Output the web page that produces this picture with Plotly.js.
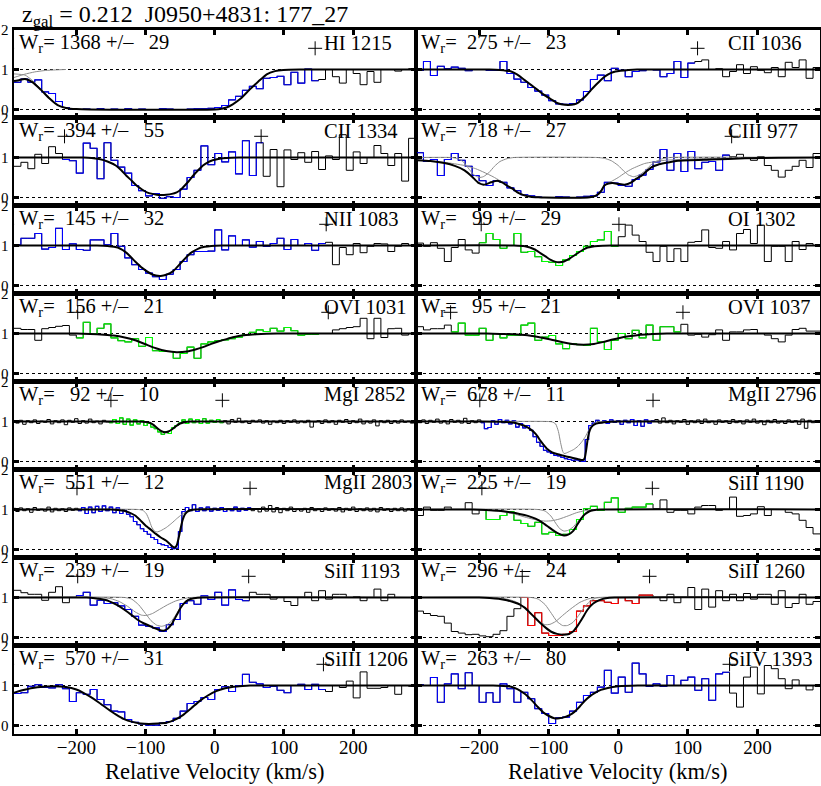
<!DOCTYPE html>
<html><head><meta charset="utf-8">
<script src="https://cdn.plot.ly/plotly-3.0.1.min.js"></script>
<style>html,body{margin:0;padding:0;background:#fff}</style>
</head><body><div id="chart" style="width:821px;height:786px"></div>
<script>
// ---------------- DATA ----------------
const figTitle = "z<sub>gal</sub> = 0.212\u00a0\u00a0J0950+4831: 177_27";
const xTickVals = [-200, -100, 0, 100, 200];
const yTickVals = [0, 1, 2];

// velocity bin centres (km/s)
const velCOS = [-285,-275,-265,-255,-245,-235,-225,-215,-205,-195,-185,-175,-165,-155,-145,-135,-125,-115,-105,-95,-85,-75,-65,-55,-45,-35,-25,-15,-5,5,15,25,35,45,55,65,75,85,95,105,115,125,135,145,155,165,175,185,195,205,215,225,235,245,255,265,275,285];
const velHIRES = [-290,-285,-280,-275,-270,-265,-260,-255,-250,-245,-240,-235,-230,-225,-220,-215,-210,-205,-200,-195,-190,-185,-180,-175,-170,-165,-160,-155,-150,-145,-140,-135,-130,-125,-120,-115,-110,-105,-100,-95,-90,-85,-80,-75,-70,-65,-60,-55,-50,-45,-40,-35,-30,-25,-20,-15,-10,-5,0,5,10,15,20,25,30,35,40,45,50,55,60,65,70,75,80,85,90,95,100,105,110,115,120,125,130,135,140,145,150,155,160,165,170,175,180,185,190,195,200,205,210,215,220,225,230,235,240,245,250,255,260,265,270,275,280,285,290];

const panelIon = ['HI 1215','CII 1036','CII 1334','CIII 977','NII 1083','OI 1302','OVI 1031','OVI 1037','MgI 2852','MgII 2796','MgII 2803','SiII 1190','SiII 1193','SiII 1260','SiIII 1206','SiIV 1393'];
const panelWr = [1368,275,394,718,145,99,156,95,92,678,551,225,239,296,570,263];
const panelWrErr = [29,23,55,27,32,29,21,21,10,11,12,19,19,24,31,80];
const panelVmin = [-300,-300,-217,-300,-300,-197,-198,-241,-150,-199,-199,-196,-198,-138,-300,-300];
const panelVmax = [145,114,67,163,161,1,164,93,11,50,51,49,49,45,157,160];
const panelGrid = ['COS','COS','COS','COS','COS','COS','COS','COS','HIRES','HIRES','HIRES','COS','COS','COS','COS','COS'];

// normalised flux
const fluxHI1215 = [0.68,0.76,0.68,0.74,0.44,0.40,0.20,0.05,0.01,0.00,0.01,0.00,0.02,0.00,0.01,0.00,0.02,0.00,0.01,0.00,0.00,0.02,0.01,0.00,0.00,0.01,0.02,0.02,0.03,0.05,0.10,0.24,0.33,0.48,0.58,0.52,0.78,0.80,0.83,0.62,0.93,0.66,1.01,0.72,0.75,1.00,0.82,0.66,1.00,0.90,0.62,0.95,0.68,1.00,1.00,0.96,1.00,1.02];
const fluxCII1036 = [0.98,1.20,0.85,1.08,1.02,1.06,1.03,0.97,1.00,1.00,0.98,0.98,1.20,0.90,0.76,0.68,0.55,0.46,0.36,0.22,0.14,0.13,0.15,0.24,0.45,0.75,0.86,0.72,1.03,0.98,0.82,0.95,0.97,1.00,0.99,0.82,0.90,1.20,0.80,1.16,1.20,1.24,1.00,1.02,0.82,0.95,1.12,0.90,1.07,0.98,0.92,1.05,0.82,1.18,1.05,1.24,0.78,1.05];
const fluxCII1334 = [0.78,0.88,0.72,1.08,0.85,1.27,1.10,0.95,0.92,0.61,1.36,1.23,0.47,1.37,0.93,0.76,0.61,0.30,0.17,0.04,0.10,-0.02,0.02,0.00,0.21,0.50,0.68,1.29,0.82,1.10,0.89,1.14,0.59,1.42,0.55,1.37,0.53,1.20,0.27,1.19,0.95,1.12,0.88,1.15,0.70,1.04,0.95,1.57,0.68,1.14,0.85,1.00,1.30,1.10,0.80,1.10,0.41,1.48];
const fluxCIII977 = [1.12,0.90,0.95,0.55,0.95,1.10,0.93,0.78,0.55,0.42,0.30,0.42,0.38,0.24,0.17,0.07,0.04,0.01,0.00,0.00,0.02,0.01,0.00,0.01,0.03,0.04,0.13,0.38,0.36,0.30,0.28,0.45,0.56,0.70,0.89,1.20,0.68,1.10,0.65,1.15,0.72,0.88,0.90,0.68,1.06,1.02,1.08,1.00,0.93,1.02,0.80,0.68,0.51,0.68,0.78,0.93,0.75,1.10];
const fluxNII1083 = [1.02,1.18,1.18,1.30,0.91,0.95,1.43,0.90,1.04,0.90,0.88,1.14,1.14,1.02,1.30,0.98,0.69,0.52,0.40,0.31,0.22,0.15,0.28,0.40,0.60,0.77,0.85,0.85,0.86,1.39,0.89,1.24,1.00,1.14,0.96,1.10,0.98,1.05,1.18,0.90,1.15,1.00,1.05,0.88,1.05,1.08,0.52,0.95,0.77,1.05,0.82,0.98,1.05,1.04,0.85,0.98,1.05,1.00];
const fluxOI1302 = [1.06,0.98,1.07,0.93,0.60,0.95,1.15,0.89,0.81,1.07,1.30,1.15,0.93,1.00,1.30,0.83,0.85,0.72,0.60,0.58,0.50,0.64,0.75,0.85,0.98,1.10,1.14,1.35,0.98,1.22,1.51,1.26,1.10,0.83,0.60,0.98,0.60,0.92,0.60,1.08,1.10,1.39,0.95,0.93,1.10,0.89,1.30,1.40,1.05,1.51,0.60,0.98,0.98,0.60,1.10,0.90,1.05,1.00];
const fluxOVI1031 = [1.13,1.10,1.10,0.83,1.12,1.15,1.18,1.20,0.96,0.89,1.28,1.00,1.13,1.24,0.89,0.82,0.79,0.87,0.68,0.90,0.57,0.55,0.55,0.38,0.50,0.66,0.38,0.74,0.79,0.82,0.84,0.87,0.91,0.97,1.03,1.09,1.05,1.13,1.06,1.15,1.07,0.96,0.98,0.98,1.00,1.00,1.09,1.12,1.15,1.17,1.38,0.87,1.38,0.90,1.12,1.13,0.96,1.00];
const fluxOVI1037 = [1.17,1.09,1.12,1.12,1.21,1.04,1.26,0.96,0.96,1.13,0.83,1.00,0.89,0.96,0.96,1.21,1.26,0.83,0.91,0.95,0.74,0.62,0.74,0.72,0.70,1.13,0.79,0.60,0.83,1.00,0.87,1.08,0.89,1.21,0.83,1.17,1.17,1.04,1.23,0.96,0.98,0.91,0.97,1.09,0.83,1.04,1.04,1.09,1.10,1.00,0.96,0.87,0.79,0.96,1.10,1.13,1.06,1.06];
const fluxMgI2852 = [1.00,0.96,1.03,0.93,1.02,0.97,1.04,0.95,1.01,0.98, 1.05,0.94,1.02,0.97,1.04,0.92,1.03,0.98,1.07,0.95, 1.02,0.96,1.06,0.97,1.01,0.94,1.03,0.99,0.97,1.05, 0.95,1.09,0.93,1.06,0.91,1.04,0.94,1.02,0.90,0.96, 0.86,0.82,0.74,0.68,0.75,0.70,0.84,0.90,0.96,1.04, 0.95,1.06,0.97,1.05,0.95,1.07,0.96,1.03,0.98,1.05, 0.97,1.02,0.94,1.05,0.98,1.08,0.97,1.01,0.95,1.03, 0.99,1.04,0.96,1.02,0.93,1.01,0.97,1.03,0.95,1.02, 0.98,1.04,0.96,1.01,0.97,1.03,0.86,0.99,1.02,0.95, 1.04,0.97,1.02,0.93,1.03,0.98,1.05,0.95,1.02,0.97, 1.06,0.94,1.01,0.96,1.04,0.89,1.02,0.97,1.03,0.95, 1.02,0.96,1.04,0.98,1.01,0.96,1.02];
const fluxMgII2796 = [1.00,0.97,1.04,0.95,1.03,0.98,1.06,0.96,1.02,0.94, 1.05,0.98,1.03,0.96,1.08,0.95,1.02,0.97,1.04,0.97, 0.82,0.85,1.02,0.93,1.05,0.97,1.03,0.94,1.02,0.86, 0.95,0.84,0.90,0.78,0.62,0.48,0.38,0.28,0.24,0.20, 0.15,0.14,0.10,0.07,0.05,0.03,0.04,0.02,0.00,0.55, 0.90,0.96,1.03,0.97,1.02,0.95,1.04,0.98,1.02,0.93, 1.03,0.97,1.05,0.90,1.02,0.88,1.04,0.96,1.02,1.05, 0.96,1.09,0.97,1.03,0.94,1.02,0.98,1.05,0.93,1.02, 0.97,1.04,0.95,1.06,0.97,1.01,0.93,1.04,0.98,1.02, 0.95,1.05,0.97,1.02,0.94,1.04,0.98,1.06,0.96,1.02, 0.92,1.03,0.97,1.05,0.96,1.01,0.95,1.04,0.98,1.02, 0.93,1.06,0.83,1.03,0.97,1.02,0.98];
const fluxMgII2803 = [1.03,0.95,1.04,0.97,1.02,0.93,1.05,0.98,1.01,0.96, 1.06,0.94,1.03,0.97,1.02,0.95,1.04,0.98,1.03,0.97, 1.05,0.90,1.06,0.92,1.08,0.95,1.09,0.97,1.06,0.92, 1.04,0.90,0.98,0.88,0.82,0.70,0.62,0.52,0.45,0.38, 0.30,0.25,0.15,0.12,0.10,0.05,0.02,0.03,0.45,0.95, 1.05,0.97,1.12,0.95,1.04,0.97,1.06,0.96,1.03,0.98, 1.05,0.95,1.02,0.97,1.06,0.96,1.03,0.98,1.04,0.97, 1.02,0.94,1.06,0.96,1.10,0.94,1.05,0.92,1.03,0.97, 1.06,0.95,1.01,0.96,1.03,0.93,1.05,0.97,1.02,0.95, 1.04,0.98,1.02,0.96,1.05,0.94,1.03,0.98,1.06,0.95, 1.02,0.97,1.04,0.96,1.03,0.94,1.05,0.98,1.02,0.95, 1.03,0.97,1.04,0.96,1.02,0.98,1.01];
const fluxSiII1190 = [0.85,1.06,0.98,0.98,1.06,1.00,1.00,1.17,0.89,1.00,0.75,0.75,0.85,0.95,0.73,0.65,0.58,0.68,0.39,0.43,0.35,0.38,0.50,0.75,1.02,1.08,0.98,1.18,1.29,0.93,1.03,1.06,1.06,1.14,1.02,1.24,0.93,0.98,0.98,0.89,1.06,1.10,1.10,0.98,1.00,1.31,0.83,0.85,0.89,1.07,0.85,1.00,1.00,0.93,0.89,0.73,0.55,0.39];
const fluxSiII1193 = [1.18,1.12,1.08,1.08,0.93,1.13,1.27,0.87,1.00,1.05,1.13,0.81,0.93,0.85,0.87,0.79,0.70,0.53,0.31,0.28,0.24,0.15,0.32,0.45,0.85,0.92,0.83,1.04,0.95,1.13,0.81,1.19,0.95,0.92,1.13,1.08,1.08,0.96,1.00,0.90,0.80,1.00,1.13,0.92,1.17,0.96,1.08,1.08,1.00,1.02,0.92,1.00,1.21,0.92,1.08,1.00,1.00,1.00];
const fluxSiII1260 = [0.66,0.60,0.55,0.53,0.36,0.15,0.11,0.07,0.08,0.04,0.02,0.08,0.17,0.53,0.72,1.00,0.30,0.62,0.11,0.05,0.05,0.08,0.15,0.66,0.79,0.92,0.92,0.88,0.85,1.00,0.92,0.85,1.06,1.06,1.00,0.92,1.08,0.87,1.00,1.25,0.70,1.21,0.76,1.17,0.92,1.08,0.92,1.10,0.96,1.08,1.08,0.83,1.17,0.75,0.85,1.08,0.83,0.90];
const fluxSiIII1206 = [0.80,0.82,0.98,1.02,0.95,0.94,1.02,0.92,0.60,0.82,0.78,0.90,0.65,0.52,0.36,0.34,0.15,0.08,0.04,0.01,0.01,0.06,0.10,0.18,0.36,0.55,0.60,0.70,0.65,0.90,0.97,0.85,1.00,1.28,1.08,1.04,0.95,0.98,0.88,0.82,1.00,1.03,0.90,1.03,0.90,0.85,1.00,0.95,1.11,0.69,1.34,0.93,0.93,0.95,1.00,0.78,1.00,0.98];
const fluxSiIV1393 = [1.02,1.00,1.20,0.58,1.04,1.29,0.92,1.32,1.00,0.58,0.82,0.58,1.04,0.92,0.58,0.83,0.67,0.42,0.30,0.05,0.19,0.21,0.36,0.58,0.75,0.83,0.96,1.38,0.81,1.21,0.83,1.56,1.29,0.98,1.04,0.98,1.25,1.00,1.13,1.21,0.88,1.17,0.63,1.29,1.33,0.81,0.46,1.21,1.46,0.79,1.50,1.42,1.17,0.92,1.14,1.00,0.89,1.00];

// model fits [velocity, flux]
const fitHI1215 = [[-290,0.71],[-282,0.74],[-274,0.76],[-263,0.68],[-251,0.49],[-239,0.28],[-227,0.11],[-215,0.04],[-200,0.01],[-180,0],[0,0],[10,0.02],[17,0.05],[26,0.13],[38,0.28],[50,0.49],[63,0.70],[75,0.88],[87,0.96],[99,0.99],[123,1.0],[290,1.0]];
const fitCII1036 = [[-290,1],[-185,1],[-170,0.99],[-154,0.95],[-145,0.87],[-135,0.74],[-125,0.61],[-116,0.49],[-106,0.36],[-96,0.25],[-89,0.17],[-82,0.13],[-72,0.11],[-63,0.13],[-57,0.18],[-53,0.24],[-46,0.35],[-39,0.49],[-32,0.62],[-25,0.74],[-18,0.84],[-11,0.91],[-4,0.95],[3,0.97],[15,0.99],[27,1],[290,1]];
const fitCII1334 = [[-290,1],[-190,1],[-178,0.99],[-167,0.96],[-155,0.9],[-143,0.8],[-135,0.68],[-128,0.55],[-120,0.42],[-113,0.3],[-105,0.2],[-98,0.13],[-90,0.09],[-84,0.07],[-77,0.065],[-70,0.07],[-62,0.09],[-55,0.13],[-50,0.18],[-46,0.25],[-38,0.4],[-31,0.55],[-24,0.68],[-17,0.8],[-10,0.88],[-3,0.93],[7,0.97],[17,0.99],[35,1],[290,1]];
const fitCIII977 = [[-290,0.93],[-270,0.91],[-250,0.86],[-235,0.79],[-221,0.68],[-210,0.52],[-202,0.38],[-193,0.32],[-183,0.38],[-174,0.42],[-167,0.38],[-160,0.3],[-152,0.22],[-145,0.13],[-136,0.06],[-126,0.02],[-115,0.005],[-106,0],[-45,0],[-39,0.01],[-33,0.04],[-29,0.08],[-24,0.18],[-20,0.3],[-14,0.35],[-8,0.36],[0,0.34],[9,0.32],[19,0.38],[26,0.47],[34,0.55],[41,0.66],[48,0.76],[57,0.82],[67,0.86],[86,0.92],[134,0.95],[182,0.98],[230,0.995],[290,1]];
const fitNII1083 = [[-290,1],[-170,1],[-155,0.99],[-140,0.95],[-127,0.81],[-115,0.6],[-105,0.44],[-93,0.3],[-85,0.25],[-78,0.24],[-70,0.27],[-60,0.36],[-48,0.58],[-35,0.81],[-20,0.95],[-5,0.99],[10,1],[290,1]];
const fitOI1302 = [[-290,1],[-150,1],[-134,0.98],[-120,0.9],[-112,0.81],[-104,0.72],[-97,0.64],[-90,0.59],[-85,0.58],[-78,0.6],[-70,0.67],[-59,0.8],[-50,0.9],[-44,0.95],[-29,0.99],[-10,1],[290,1]];
const fitOVI1031 = [[-290,1],[-200,1],[-180,0.99],[-160,0.97],[-146,0.95],[-130,0.9],[-115,0.83],[-100,0.73],[-85,0.63],[-70,0.56],[-55,0.53],[-40,0.55],[-28,0.6],[-17,0.66],[-5,0.74],[5,0.8],[17,0.86],[28,0.91],[45,0.96],[60,0.98],[90,1],[290,1]];
const fitOVI1037 = [[-290,1],[-190,1],[-170,0.99],[-150,0.98],[-134,0.96],[-115,0.91],[-97,0.85],[-80,0.78],[-66,0.74],[-50,0.72],[-35,0.74],[-21,0.79],[-8,0.85],[2,0.89],[15,0.93],[32,0.97],[50,0.99],[70,1],[290,1]];
const fitMgI2852 = [[-290,1],[-110,1],[-100,0.99],[-94,0.97],[-88,0.91],[-82,0.82],[-77,0.76],[-72,0.73],[-67,0.75],[-62,0.8],[-57,0.87],[-50,0.95],[-42,0.99],[-35,1],[290,1]];
const fitMgII2796 = [[-290,1],[-200,1],[-170,0.995],[-155,0.98],[-145,0.95],[-136,0.9],[-128,0.83],[-121,0.73],[-116,0.63],[-112,0.52],[-107,0.41],[-102,0.31],[-95,0.23],[-87,0.18],[-80,0.15],[-73,0.12],[-65,0.09],[-58,0.06],[-53,0.04],[-50,0.04],[-48,0.1],[-46,0.3],[-44,0.55],[-42,0.72],[-40,0.82],[-37,0.89],[-34,0.93],[-28,0.96],[-20,0.98],[-10,0.995],[0,1],[290,1]];
const fitMgII2803 = [[-290,1],[-150,1],[-140,0.99],[-131,0.97],[-124,0.93],[-115,0.85],[-108,0.74],[-100,0.6],[-92,0.49],[-85,0.39],[-78,0.3],[-70,0.22],[-65,0.14],[-61,0.07],[-58,0.05],[-55,0.1],[-52,0.3],[-49,0.55],[-46,0.76],[-43,0.88],[-40,0.94],[-35,0.98],[-28,1],[290,1]];
const fitSiII1190 = [[-290,1],[-210,1],[-190,0.99],[-172,0.97],[-155,0.93],[-142,0.89],[-130,0.84],[-119,0.77],[-108,0.66],[-100,0.56],[-92,0.46],[-85,0.39],[-78,0.35],[-72,0.37],[-65,0.46],[-59,0.62],[-53,0.78],[-48,0.88],[-42,0.95],[-36,0.98],[-25,1],[290,1]];
const fitSiII1193 = [[-290,1],[-185,1],[-176,0.99],[-165,0.96],[-153,0.91],[-142,0.82],[-131,0.7],[-120,0.56],[-112,0.45],[-102,0.35],[-93,0.28],[-82,0.2],[-74,0.17],[-68,0.22],[-62,0.34],[-55,0.56],[-49,0.75],[-44,0.86],[-38,0.94],[-30,0.98],[-17,1],[290,1]];
const fitSiII1260 = [[-290,1],[-200,1],[-185,0.99],[-172,0.97],[-160,0.93],[-150,0.88],[-142,0.83],[-134,0.74],[-127,0.62],[-120,0.5],[-112,0.36],[-104,0.24],[-97,0.15],[-88,0.09],[-80,0.07],[-72,0.08],[-65,0.15],[-59,0.28],[-52,0.47],[-44,0.7],[-36,0.85],[-28,0.93],[-18,0.98],[-5,1],[290,1]];
const fitSiIII1206 = [[-290,0.82],[-278,0.88],[-263,0.94],[-248,0.97],[-234,0.98],[-215,0.96],[-200,0.9],[-191,0.83],[-180,0.72],[-167,0.57],[-155,0.42],[-143,0.28],[-131,0.16],[-119,0.09],[-107,0.05],[-95,0.04],[-82,0.05],[-70,0.07],[-58,0.14],[-46,0.26],[-34,0.43],[-22,0.61],[-10,0.75],[2,0.86],[15,0.93],[27,0.97],[40,0.99],[51,1],[290,1]];
const fitSiIV1393 = [[-290,1],[-180,1],[-165,0.99],[-154,0.97],[-145,0.91],[-135,0.8],[-125,0.64],[-116,0.47],[-108,0.33],[-101,0.25],[-92,0.18],[-85,0.18],[-77,0.21],[-70,0.26],[-63,0.34],[-55,0.48],[-48,0.62],[-40,0.74],[-34,0.81],[-25,0.89],[-15,0.94],[0,0.98],[28,1],[290,1]];

// individual components [velocity, flux]
const compHI1215 = [
  [[-290,0.80],[-275,0.88],[-260,0.94],[-245,0.975],[-230,0.99],[-215,1.0]],
  [[-290,0.89],[-274,0.86],[-263,0.72],[-251,0.51],[-239,0.29],[-227,0.11],[-215,0.04],[-200,0.01]]
];
const compCIII977 = [
  [[-290,1],[-240,1],[-230,0.97],[-222,0.88],[-214,0.7],[-207,0.56],[-200,0.5],[-194,0.52],[-186,0.62],[-178,0.78],[-170,0.9],[-160,0.97],[-150,1],[-30,1],[-20,0.98],[-10,0.92],[0,0.8],[8,0.66],[15,0.56],[22,0.52],[30,0.56],[38,0.66],[46,0.8],[54,0.9],[64,0.97],[75,1],[290,1]],
  [[-290,0.94],[-250,0.88],[-221,0.8],[-205,0.72],[-193,0.63],[-180,0.52],[-170,0.42],[-160,0.31],[-150,0.19],[-140,0.09],[-126,0.02],[-110,0],[-39,0],[-29,0.08],[-20,0.3],[-10,0.4],[0,0.5],[10,0.62],[20,0.72],[38,0.85],[67,0.93],[120,0.97],[200,0.99],[290,1]]
];
const compMgII2796 = [
  [[-290,1],[-100,1],[-95,0.99],[-90,0.94],[-86,0.75],[-83,0.48],[-80,0.26],[-78,0.2],[-75,0.21],[-70,0.25],[-64,0.3],[-58,0.38],[-52,0.5],[-47,0.63],[-43,0.77],[-39,0.88],[-35,0.95],[-30,0.99],[-25,1],[290,1]]
];
const compMgII2803 = [
  [[-290,1],[-110,1],[-104,0.98],[-99,0.9],[-95,0.75],[-91,0.56],[-87,0.46],[-83,0.44],[-78,0.47],[-70,0.55],[-62,0.66],[-55,0.77],[-48,0.87],[-42,0.94],[-36,0.98],[-30,1],[290,1]]
];
const compSiII1190 = [
  [[-290,1],[-210,1],[-185,0.98],[-165,0.94],[-148,0.88],[-132,0.8],[-118,0.74],[-105,0.71],[-95,0.72],[-85,0.76],[-72,0.84],[-60,0.92],[-48,0.97],[-35,0.995],[-20,1],[290,1]],
  [[-290,1],[-115,1],[-105,0.96],[-97,0.84],[-90,0.66],[-84,0.52],[-78,0.46],[-72,0.48],[-65,0.56],[-59,0.68],[-52,0.82],[-45,0.93],[-38,0.99],[-30,1],[290,1]]
];
const compSiII1193 = [
  [[-290,1],[-165,1],[-150,0.97],[-138,0.9],[-126,0.78],[-115,0.64],[-106,0.56],[-99,0.55],[-90,0.6],[-80,0.7],[-68,0.82],[-57,0.91],[-45,0.97],[-35,1],[290,1]],
  [[-290,1],[-130,1],[-120,0.96],[-110,0.82],[-100,0.6],[-92,0.42],[-84,0.31],[-77,0.28],[-70,0.31],[-63,0.4],[-56,0.57],[-49,0.77],[-42,0.91],[-35,0.98],[-28,1],[290,1]]
];
const compSiII1260 = [
  [[-290,1],[-175,1],[-160,0.96],[-148,0.9],[-138,0.8],[-128,0.65],[-120,0.5],[-112,0.38],[-105,0.32],[-98,0.33],[-90,0.4],[-80,0.55],[-68,0.72],[-55,0.88],[-42,0.97],[-30,1],[290,1]],
  [[-290,1],[-125,1],[-115,0.96],[-105,0.82],[-96,0.6],[-88,0.4],[-80,0.3],[-73,0.3],[-65,0.38],[-57,0.55],[-49,0.75],[-41,0.9],[-33,0.98],[-25,1],[290,1]]
];

const panelFlux = [fluxHI1215,fluxCII1036,fluxCII1334,fluxCIII977,fluxNII1083,fluxOI1302,fluxOVI1031,fluxOVI1037,fluxMgI2852,fluxMgII2796,fluxMgII2803,fluxSiII1190,fluxSiII1193,fluxSiII1260,fluxSiIII1206,fluxSiIV1393];
const panelFit = [fitHI1215,fitCII1036,fitCII1334,fitCIII977,fitNII1083,fitOI1302,fitOVI1031,fitOVI1037,fitMgI2852,fitMgII2796,fitMgII2803,fitSiII1190,fitSiII1193,fitSiII1260,fitSiIII1206,fitSiIV1393];
const panelComp = [compHI1215,[],[],compCIII977,[],[],[],[],[],compMgII2796,compMgII2803,compSiII1190,compSiII1193,compSiII1260,[],[]];

// ---------------- STYLE ----------------
const hue = {blue:'#0000ff', green:'#00ff00', red:'#ff0000'};
const panelHue = ['blue','blue','blue','blue','blue','green','green','green','green','blue','blue','green','blue','red','blue','blue'];
const FONT = '"Liberation Serif", "Times New Roman", serif';
const W = 821, H = 786;
const colPx = [[14, 415.5], [416.5, 820]];
const top0 = 29.5, rowH = 88;
const markLevel = 1.53;
const labelSize = 20.5;

// ---------------- BUILD ----------------
const grids = {COS: {vel: velCOS, dv: 10}, HIRES: {vel: velHIRES, dv: 5}};
function steps(vel, flux, dv, lo, hi) {
  const xs = [], ys = []; let last = -1;
  for (let i = 0; i < vel.length; i++) {
    if (vel[i] < lo || vel[i] > hi) continue;
    xs.push(vel[i] - dv / 2); ys.push(flux[i]); last = i;
  }
  if (last >= 0) { xs.push(vel[last] + dv / 2); ys.push(flux[last]); }
  return {xs, ys};
}
function pad(n, w) { const s = String(n); return '\u00a0'.repeat(Math.max(0, w - s.length)) + s; }

const traces = [], annotations = [];
const layout = {
  width: W, height: H, margin: {l: 0, r: 0, t: 0, b: 0},
  paper_bgcolor: '#fff', plot_bgcolor: '#fff', showlegend: false,
  font: {family: FONT, color: '#000'}
};

for (let p = 0; p < 16; p++) {
  const row = Math.floor(p / 2), col = p % 2;
  const xid = p === 0 ? 'x' : 'x' + (p + 1), yid = p === 0 ? 'y' : 'y' + (p + 1);
  const xname = p === 0 ? 'xaxis' : 'xaxis' + (p + 1), yname = p === 0 ? 'yaxis' : 'yaxis' + (p + 1);
  const t = top0 + rowH * row, b = t + rowH;
  layout[xname] = {
    domain: [colPx[col][0] / W, colPx[col][1] / W], range: [-290, 290], anchor: yid,
    showline: true, linecolor: '#000', linewidth: 2.5, mirror: 'allticks',
    ticks: 'inside', ticklen: 5, tickwidth: 3, tickcolor: '#000',
    tickmode: 'array', tickvals: xTickVals, showticklabels: row === 7,
    ticklabelstandoff: -5,
    tickfont: {family: FONT, size: 19, color: '#000'},
    showgrid: false, zeroline: false, fixedrange: true
  };
  layout[yname] = {
    domain: [1 - b / H, 1 - t / H], range: [-0.2, 2.0], anchor: xid,
    showline: true, linecolor: '#000', linewidth: 2.5, mirror: 'allticks',
    ticks: 'inside', ticklen: 5, tickwidth: 3, tickcolor: '#000',
    tickmode: 'array', tickvals: yTickVals, showticklabels: col === 0,
    tickfont: {family: FONT, size: 15, color: '#000'},
    showgrid: true, gridcolor: '#000', gridwidth: 1, griddash: 'dot',
    zeroline: false, fixedrange: true
  };
  const g = grids[panelGrid[p]];
  const all = steps(g.vel, panelFlux[p], g.dv, -1e9, 1e9);
  traces.push({type: 'scatter', mode: 'lines', x: all.xs, y: all.ys, xaxis: xid, yaxis: yid,
    line: {color: '#000', width: 1, shape: 'hv'}, hoverinfo: 'skip'});
  const seg = steps(g.vel, panelFlux[p], g.dv, panelVmin[p], panelVmax[p]);
  traces.push({type: 'scatter', mode: 'lines', x: seg.xs, y: seg.ys, xaxis: xid, yaxis: yid,
    line: {color: hue[panelHue[p]], width: 1.1, shape: 'hv'}, hoverinfo: 'skip'});
  panelComp[p].forEach(c => traces.push({type: 'scatter', mode: 'lines',
    x: c.map(q => q[0]), y: c.map(q => q[1]), xaxis: xid, yaxis: yid,
    line: {color: '#8c8c8c', width: 1, shape: 'spline', smoothing: 0.5}, hoverinfo: 'skip'}));
  traces.push({type: 'scatter', mode: 'lines', x: panelFit[p].map(q => q[0]), y: panelFit[p].map(q => q[1]),
    xaxis: xid, yaxis: yid, line: {color: '#000', width: 2, shape: 'spline', smoothing: 0.5}, hoverinfo: 'skip'});
  traces.push({type: 'scatter', mode: 'markers', x: [panelVmin[p], panelVmax[p]], y: [markLevel, markLevel],
    xaxis: xid, yaxis: yid, cliponaxis: true,
    marker: {symbol: 'cross-thin', size: 10, color: '#000', line: {color: '#000', width: 1}}, hoverinfo: 'skip'});
  annotations.push({xref: xid, yref: yid, x: -286, y: 1.64, xanchor: 'left', yanchor: 'middle', showarrow: false,
    text: 'W<sub>r</sub>=' + pad(panelWr[p], 5) + ' +/\u2013' + pad(panelWrErr[p], 5),
    font: {family: FONT, size: labelSize, color: '#000'}});
  annotations.push({xref: xid, yref: yid, x: 155, y: 1.67, xanchor: 'left', yanchor: 'middle', showarrow: false,
    text: panelIon[p], font: {family: FONT, size: labelSize, color: '#000'}});
}
annotations.push({xref: 'paper', yref: 'paper', x: 20 / W, y: 1 - 16 / H, xanchor: 'left', yanchor: 'middle',
  showarrow: false, text: figTitle, font: {family: FONT, size: 24, color: '#000'}});
[0, 1].forEach(c => annotations.push({xref: 'paper', yref: 'paper',
  x: (colPx[c][0] + colPx[c][1]) / 2 / W, y: 1 - 771 / H, xanchor: 'center', yanchor: 'middle',
  showarrow: false, text: 'Relative Velocity (km/s)', font: {family: FONT, size: 22.5, color: '#000'}}));
layout.annotations = annotations;

Plotly.newPlot('chart', traces, layout, {staticPlot: true, displayModeBar: false});
</script>
</body></html>
